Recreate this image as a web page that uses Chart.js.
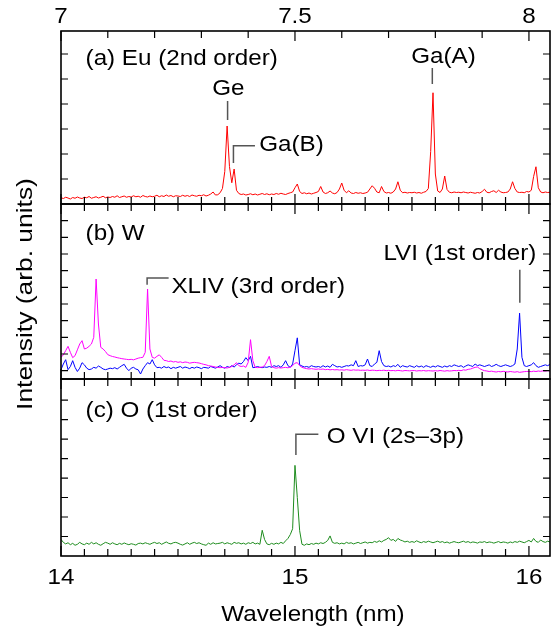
<!DOCTYPE html>
<html lang="en">
<head>
    <meta charset="UTF-8">
    <script src="https://cdn.jsdelivr.net/npm/chart.js"></script>
    <title>Eu / W / O spectra</title>
    <style>
        body { margin: 0; background: #fff; }
        #wrap { position: relative; width: 552px; height: 632px; }
        #wrap canvas { position: absolute; left: 0; top: 0; }
    </style>
</head>
<body>
    <div id="wrap">
        <canvas id="panelA" width="552" height="632"></canvas>
        <canvas id="panelB" width="552" height="632"></canvas>
        <canvas id="panelC" width="552" height="632"></canvas>
    </div>
    <script>
        // wavelength grid (nm), 0.01 nm steps from 14.00 to 16.09
        const lambdaStart = 14.0;
        const lambdaStep = 0.01;

        // (a) Eu, 2nd order
        const euRed = [
            0.25,0.22,0.27,0.24,0.20,0.26,0.23,0.28,0.24,0.22,
            0.27,0.25,0.30,0.23,0.26,0.29,0.24,0.27,0.31,0.25,
            0.28,0.26,0.30,0.27,0.33,0.26,0.29,0.32,0.27,0.30,
            0.28,0.33,0.29,0.31,0.27,0.34,0.30,0.28,0.32,0.29,
            0.31,0.35,0.29,0.33,0.30,0.36,0.31,0.34,0.29,0.33,
            0.32,0.30,0.35,0.31,0.34,0.30,0.36,0.33,0.31,0.35,
            0.33,0.37,0.32,0.35,0.40,0.48,0.36,0.37,0.45,0.62,
            1.30,3.12,1.50,0.85,1.40,0.55,0.42,0.38,0.40,0.36,
            0.38,0.41,0.37,0.40,0.36,0.39,0.42,0.38,0.41,0.37,
            0.40,0.38,0.42,0.39,0.43,0.40,0.38,0.42,0.45,0.48,
            0.65,0.80,0.50,0.42,0.45,0.41,0.44,0.40,0.43,0.46,
            0.50,0.70,0.48,0.42,0.45,0.52,0.44,0.41,0.46,0.60,
            0.84,0.55,0.45,0.53,0.44,0.42,0.46,0.43,0.45,0.42,
            0.44,0.47,0.60,0.73,0.63,0.48,0.45,0.70,0.50,0.44,
            0.46,0.43,0.48,0.60,0.89,0.55,0.45,0.47,0.44,0.46,
            0.45,0.47,0.44,0.46,0.43,0.47,0.50,0.62,2.10,4.45,
            1.20,0.52,0.46,0.60,1.12,0.58,0.47,0.45,0.48,0.46,
            0.47,0.45,0.48,0.46,0.44,0.47,0.45,0.43,0.46,0.44,
            0.50,0.59,0.47,0.45,0.50,0.53,0.46,0.55,0.48,0.45,
            0.46,0.48,0.60,0.89,0.62,0.48,0.46,0.47,0.45,0.50,
            0.48,0.55,1.10,1.49,0.65,0.48,0.45,0.48,0.46,0.47
        ];

        // (b) W, magenta trace
        const wMagenta = [
            0.80,0.95,1.20,1.46,1.10,0.78,0.90,1.25,1.60,1.80,
            1.30,1.35,1.46,1.60,2.00,5.50,2.80,1.40,1.30,1.15,
            0.96,0.90,0.85,0.82,0.78,0.75,0.72,0.70,0.68,0.66,
            0.68,0.65,0.70,0.75,0.78,0.80,1.10,4.90,1.30,0.80,
            0.75,0.86,0.95,0.80,0.62,0.60,0.55,0.58,0.52,0.55,
            0.50,0.53,0.48,0.52,0.50,0.45,0.48,0.50,0.48,0.46,
            0.42,0.38,0.35,0.30,0.28,0.25,0.22,0.20,0.18,0.20,
            0.18,0.16,0.20,0.25,0.35,0.48,0.30,0.25,0.28,0.20,
            0.50,1.86,0.60,0.20,0.18,0.20,0.22,0.30,0.55,0.86,
            0.25,0.18,0.15,0.18,0.16,0.18,0.20,0.17,0.22,0.30,
            0.45,0.48,0.30,0.20,0.15,0.12,0.10,0.12,0.10,0.08,
            0.10,0.08,0.10,0.06,0.08,0.05,0.07,0.05,0.06,0.04,
            0.05,0.03,0.06,0.04,0.02,0.05,0.03,0.04,0.02,0.03,
            0.02,0.04,0.01,0.03,0.02,0.00,0.02,0.01,0.03,0.00,
            0.02,0.00,0.01,-0.01,0.02,0.00,-0.02,0.01,0.00,-0.01,
            0.00,0.01,-0.02,0.00,-0.01,0.01,-0.02,0.00,-0.01,-0.02,
            0.00,-0.02,0.01,-0.01,-0.03,0.00,-0.02,-0.01,0.01,0.00,
            0.02,0.00,0.05,0.03,0.08,0.10,0.15,0.20,0.22,0.12,
            0.05,0.00,-0.02,-0.05,-0.03,-0.06,-0.08,-0.05,-0.07,-0.04,
            -0.06,-0.08,-0.05,-0.07,-0.09,-0.06,-0.10,-0.08,-0.06,-0.05,
            -0.04,-0.06,-0.03,-0.05,-0.02,-0.04,-0.01,-0.03,0.00,-0.02
        ];

        // (b) W, blue trace
        const wBlue = [
            0.06,0.40,0.66,0.06,0.25,0.60,0.20,-0.05,0.15,0.48,
            0.35,0.15,0.06,0.10,0.20,0.15,0.28,0.20,0.10,0.06,
            0.10,0.15,0.12,0.18,0.10,0.20,0.30,0.38,0.15,0.00,
            0.15,0.20,0.10,0.05,-0.20,0.10,0.30,0.48,0.40,0.66,
            0.35,0.18,0.20,0.15,0.25,0.18,0.22,0.12,0.20,0.15,
            0.20,0.25,0.15,0.22,0.18,0.12,0.20,0.15,0.22,0.18,
            0.12,0.20,0.18,0.15,0.25,0.20,0.15,0.22,0.30,0.20,
            0.15,0.25,0.20,0.30,0.22,0.35,0.45,0.40,0.55,0.78,
            0.60,0.86,0.18,0.20,0.25,0.20,0.18,0.22,0.20,0.25,
            0.20,0.30,0.25,0.30,0.20,0.35,0.60,0.30,0.20,0.40,
            1.20,1.97,0.35,0.28,0.22,0.25,0.20,0.30,0.25,0.22,
            0.25,0.20,0.30,0.22,0.28,0.20,0.38,0.30,0.22,0.25,
            0.20,0.25,0.30,0.28,0.35,0.30,0.60,0.25,0.30,0.28,
            0.35,0.70,0.30,0.25,0.40,0.50,1.20,0.55,0.30,0.25,
            0.28,0.22,0.30,0.25,0.38,0.20,0.30,0.25,0.22,0.30,
            0.25,0.20,0.30,0.22,0.28,0.20,0.30,0.25,0.20,0.28,
            0.22,0.30,0.25,0.20,0.28,0.22,0.30,0.25,0.35,0.30,
            0.25,0.30,0.20,0.28,0.35,0.30,0.25,0.40,0.30,0.35,
            0.30,0.25,0.30,0.35,0.25,0.30,0.38,0.30,0.25,0.30,
            0.35,0.30,0.25,0.30,0.40,1.30,3.45,0.80,0.30,0.25,
            0.30,0.35,0.48,0.30,0.20,0.25,0.30,0.35,0.30,0.38
        ];

        // (c) O, 1st order
        const oGreen = [
            0.85,0.70,0.62,0.68,0.58,0.65,0.55,0.60,0.70,0.62,
            0.58,0.66,0.60,0.70,0.62,0.68,0.60,0.55,0.63,0.70,
            0.66,0.60,0.68,0.62,0.58,0.65,0.60,0.67,0.62,0.58,
            0.63,0.60,0.56,0.64,0.66,0.62,0.68,0.64,0.60,0.66,
            0.70,0.64,0.68,0.60,0.66,0.72,0.65,0.62,0.68,0.70,
            0.66,0.60,0.56,0.62,0.68,0.60,0.66,0.70,0.64,0.68,
            0.62,0.58,0.55,0.66,0.60,0.68,0.62,0.64,0.66,0.70,
            0.62,0.68,0.64,0.60,0.70,0.65,0.68,0.62,0.66,0.60,
            0.68,0.64,0.70,0.62,0.66,0.60,1.32,0.85,0.62,0.58,
            0.65,0.60,0.66,0.62,0.70,0.64,0.78,0.90,1.10,1.40,
            4.65,3.00,1.30,0.60,0.55,0.62,0.58,0.64,0.60,0.66,
            0.62,0.68,0.64,0.70,0.80,1.03,0.70,0.65,0.68,0.62,
            0.66,0.62,0.70,0.65,0.68,0.62,0.66,0.70,0.64,0.68,
            0.72,0.66,0.70,0.68,0.75,0.70,0.78,0.72,0.80,0.85,
            0.94,0.80,0.85,0.75,0.90,0.82,0.78,0.72,0.76,0.70,
            0.74,0.70,0.78,0.72,0.68,0.74,0.70,0.76,0.72,0.68,
            0.72,0.76,0.70,0.74,0.68,0.72,0.66,0.70,0.74,0.70,
            0.68,0.72,0.76,0.70,0.74,0.68,0.72,0.70,0.66,0.72,
            0.70,0.74,0.68,0.72,0.70,0.66,0.70,0.74,0.68,0.72,
            0.70,0.66,0.72,0.68,0.74,0.70,0.76,0.72,0.68,0.74,
            0.80,0.72,0.90,0.75,0.70,0.82,0.74,0.70,0.76,0.72
        ];

        // axis tick labels
        const topTickValues = [14, 15, 16];
        const topTickLabels = ['7', '7.5', '8'];
        const bottomTickValues = [14, 15, 16];
        const bottomTickLabels = ['14', '15', '16'];

        const FONT = '"Liberation Sans", Arial, Helvetica, sans-serif';

        function toPoints(values) {
            return values.map((v, i) => ({ x: lambdaStart + i * lambdaStep, y: v }));
        }

        function drawText(ctx, str, x, y, align, size) {
            ctx.save();
            ctx.font = size + 'px ' + FONT;
            ctx.fillStyle = '#000';
            ctx.translate(x, y);
            ctx.scale(1.1, 1);
            ctx.textAlign = align;
            ctx.textBaseline = 'alphabetic';
            ctx.fillText(str, 0, 0);
            ctx.restore();
        }

        const framePlugin = {
            id: 'frame',
            afterDatasetsDraw(chart, args, o) {
                const ctx = chart.ctx;
                const a = chart.chartArea;
                const xs = chart.scales.x, ys = chart.scales.y;
                ctx.save();

                // leader lines
                ctx.strokeStyle = '#555';
                ctx.lineWidth = 1.5;
                (o.leaders || []).forEach(pts => {
                    ctx.beginPath();
                    pts.forEach((p, i) => {
                        const px = xs.getPixelForValue(p[0]), py = ys.getPixelForValue(p[1]);
                        if (i === 0) ctx.moveTo(px, py); else ctx.lineTo(px, py);
                    });
                    ctx.stroke();
                });

                ctx.strokeStyle = '#000';
                ctx.lineWidth = 1.2;
                ctx.beginPath();
                // top edge ticks
                const topStep = o.topStep || 0.1;
                for (let i = 0; 14 + i * topStep <= 16.0001; i++) {
                    const v = 14 + i * topStep;
                    const px = xs.getPixelForValue(v);
                    const major = Math.abs(v - Math.round(v)) < 1e-6 || (o.topStep && Math.abs(v - 15) < 1e-6);
                    ctx.moveTo(px, a.top);
                    ctx.lineTo(px, a.top + (major ? 10 : 7));
                }
                // bottom edge ticks
                for (let i = 0; i <= 20; i++) {
                    const v = 14 + i * 0.1;
                    const px = xs.getPixelForValue(v);
                    const major = i % 10 === 0;
                    ctx.moveTo(px, a.bottom);
                    ctx.lineTo(px, a.bottom - (major ? 10 : 7));
                }
                // left / right ticks
                for (let v = Math.ceil(ys.min); v <= ys.max; v++) {
                    const py = ys.getPixelForValue(v);
                    if (py > a.bottom - 2 || py < a.top + 2) continue;
                    ctx.moveTo(a.left, py); ctx.lineTo(a.left + 7, py);
                    ctx.moveTo(a.right, py); ctx.lineTo(a.right - 7, py);
                }
                ctx.stroke();

                ctx.lineWidth = 1.6;
                ctx.strokeRect(a.left, a.top, a.right - a.left, a.bottom - a.top);

                // panel texts
                (o.labels || []).forEach(l => {
                    drawText(ctx, l.text, xs.getPixelForValue(l.x), ys.getPixelForValue(l.y), l.align || 'left', 22);
                });

                if (o.topTicks) {
                    topTickValues.forEach((v, i) => {
                        drawText(ctx, topTickLabels[i], xs.getPixelForValue(v), a.top - 8, 'center', 22);
                    });
                }
                if (o.bottomTicks) {
                    bottomTickValues.forEach((v, i) => {
                        drawText(ctx, bottomTickLabels[i], xs.getPixelForValue(v), a.bottom + 28, 'center', 22);
                    });
                    drawText(ctx, 'Wavelength (nm)', 313, 621, 'center', 22);
                }
                if (o.yTitle) {
                    ctx.save();
                    ctx.translate(32, 294);
                    ctx.rotate(-Math.PI / 2);
                    ctx.scale(1.2, 1);
                    ctx.font = '22px ' + FONT;
                    ctx.fillStyle = '#000';
                    ctx.textAlign = 'center';
                    ctx.fillText('Intensity (arb. units)', 0, 0);
                    ctx.restore();
                }
                ctx.restore();
            }
        };

        function makePanel(id, datasets, yMin, yMax, padding, frame) {
            return new Chart(document.getElementById(id), {
                type: 'line',
                data: { datasets: datasets },
                options: {
                    responsive: false,
                    animation: false,
                    events: [],
                    layout: { padding: padding },
                    plugins: {
                        legend: { display: false },
                        tooltip: { enabled: false },
                        frame: frame
                    },
                    scales: {
                        x: { type: 'linear', min: 14, max: 16.09, display: false },
                        y: { type: 'linear', min: yMin, max: yMax, display: false }
                    },
                    elements: {
                        point: { radius: 0 },
                        line: { borderWidth: 1, tension: 0 }
                    }
                },
                plugins: [framePlugin]
            });
        }

        makePanel('panelA', [
            { data: toPoints(euRed), borderColor: '#ff0000' }
        ], 0, 6.92, { top: 31, bottom: 428, left: 61, right: 2 }, {
            topStep: 0.2,
            topTicks: true,
            labels: [
                { text: '(a) Eu (2nd order)', x: 14.105, y: 5.56 },
                { text: 'Ge', x: 14.715, y: 4.36, align: 'center' },
                { text: 'Ga(B)', x: 14.847, y: 2.12 },
                { text: 'Ga(A)', x: 15.497, y: 5.65 }
            ],
            leaders: [
                [[14.712, 4.12], [14.712, 3.36]],
                [[14.829, 2.33], [14.737, 2.33], [14.737, 1.64]],
                [[15.587, 5.44], [15.587, 4.8]]
            ]
        });

        makePanel('panelB', [
            { data: toPoints(wMagenta), borderColor: '#ff00ff' },
            { data: toPoints(wBlue), borderColor: '#0000ff' }
        ], -0.5, 10, { top: 204, bottom: 253, left: 61, right: 2 }, {
            yTitle: true,
            labels: [
                { text: '(b) W', x: 14.105, y: 7.86 },
                { text: 'XLIV (3rd order)', x: 14.472, y: 4.66 },
                { text: 'LVI (1st order)', x: 15.378, y: 6.66 }
            ],
            leaders: [
                [[14.46, 5.56], [14.368, 5.56], [14.368, 5.16]],
                [[15.961, 6.06], [15.961, 4.08]]
            ]
        });

        makePanel('panelC', [
            { data: toPoints(oGreen), borderColor: '#1e8c1e' }
        ], 0, 9.08, { top: 379, bottom: 76, left: 61, right: 2 }, {
            bottomTicks: true,
            labels: [
                { text: '(c) O (1st order)', x: 14.105, y: 7.14 },
                { text: 'O VI (2s\u20133p)', x: 15.136, y: 5.78 }
            ],
            leaders: [
                [[15.1, 6.24], [15.004, 6.24], [15.004, 5.18]]
            ]
        });
    </script>
</body>
</html>
